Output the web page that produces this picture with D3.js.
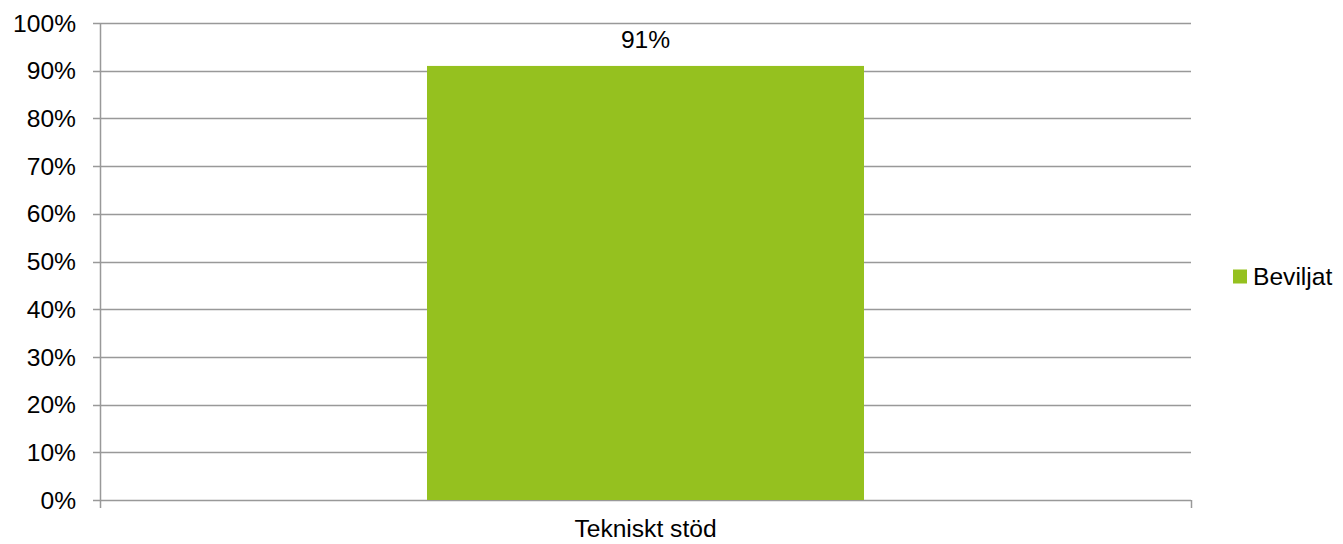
<!DOCTYPE html>
<html lang="sv">
<head>
<meta charset="utf-8">
<script src="https://d3js.org/d3.v7.min.js"></script>
<style>
body { margin: 0; background: #fff; }
#chart { width: 1343px; height: 544px; }
text { font-family: "Liberation Sans", Arial, sans-serif; fill: #000; }
</style>
</head>
<body>
<div id="chart"></div>
<script>
var categories = ["Tekniskt stöd"];
var seriesName = "Beviljat";
var values = [0.91];
var yTicks = [0, 0.1, 0.2, 0.3, 0.4, 0.5, 0.6, 0.7, 0.8, 0.9, 1.0];

var margin = { top: 23, right: 152, bottom: 44, left: 100 },
    width = 1343 - margin.left - margin.right,
    height = 544 - margin.top - margin.bottom;

var fontSize = "24.6px";

var svg = d3.select("#chart")
    .append("svg")
    .attr("width", 1343)
    .attr("height", 544)
    .append("g")
    .attr("transform", "translate(" + margin.left + "," + margin.top + ")");

var x = d3.scaleBand()
    .domain(categories)
    .range([0, width])
    .padding(0.428);

var y = d3.scaleLinear()
    .domain([0, 1])
    .range([height, 0]);

var gridColor = "#999999";

// gridlines
svg.append("g")
    .selectAll("line")
    .data(yTicks)
    .enter().append("line")
    .attr("x1", -7)
    .attr("x2", width)
    .attr("y1", function(d) { return Math.round(y(d)) + 0.5; })
    .attr("y2", function(d) { return Math.round(y(d)) + 0.5; })
    .attr("stroke", gridColor)
    .attr("stroke-width", 1.5);

// bars
svg.selectAll(".bar")
    .data(values)
    .enter().append("rect")
    .attr("class", "bar")
    .attr("x", function(d, i) { return x(categories[i]); })
    .attr("y", function(d) { return y(d); })
    .attr("width", x.bandwidth())
    .attr("height", function(d) { return height - y(d); })
    .attr("fill", "#95c11f");

// value labels
svg.selectAll(".lbl")
    .data(values)
    .enter().append("text")
    .attr("class", "lbl")
    .attr("x", function(d, i) { return x(categories[i]) + x.bandwidth() / 2; })
    .attr("y", function(d) { return y(d) - 18; })
    .attr("text-anchor", "middle")
    .style("font-size", fontSize)
    .text(function(d) { return Math.round(d * 100) + "%"; });

// y axis line
svg.append("line")
    .attr("x1", 0.5).attr("x2", 0.5)
    .attr("y1", 0).attr("y2", height + 8)
    .attr("stroke", gridColor)
    .attr("stroke-width", 1.5);

// right end tick of x axis
svg.append("line")
    .attr("x1", width + 0.5).attr("x2", width + 0.5)
    .attr("y1", height).attr("y2", height + 8)
    .attr("stroke", gridColor)
    .attr("stroke-width", 1.5);

// y tick labels
svg.append("g")
    .selectAll("text")
    .data(yTicks)
    .enter().append("text")
    .attr("x", -24)
    .attr("y", function(d) { return y(d); })
    .attr("dy", "0.35em")
    .attr("text-anchor", "end")
    .style("font-size", fontSize)
    .text(function(d) { return Math.round(d * 100) + "%"; });

// x category labels
svg.append("g")
    .selectAll("text")
    .data(categories)
    .enter().append("text")
    .attr("x", function(d) { return x(d) + x.bandwidth() / 2; })
    .attr("y", height + 37)
    .attr("text-anchor", "middle")
    .style("font-size", fontSize)
    .text(function(d) { return d; });

// legend
var legend = svg.append("g")
    .attr("transform", "translate(" + (width + 42) + "," + (y(0.5) + 15) + ")");

legend.append("rect")
    .attr("x", 0)
    .attr("y", -7)
    .attr("width", 14)
    .attr("height", 14)
    .attr("fill", "#95c11f");

legend.append("text")
    .attr("x", 20)
    .attr("y", 0)
    .attr("dy", "0.35em")
    .style("font-size", fontSize)
    .text(seriesName);
</script>
</body>
</html>
